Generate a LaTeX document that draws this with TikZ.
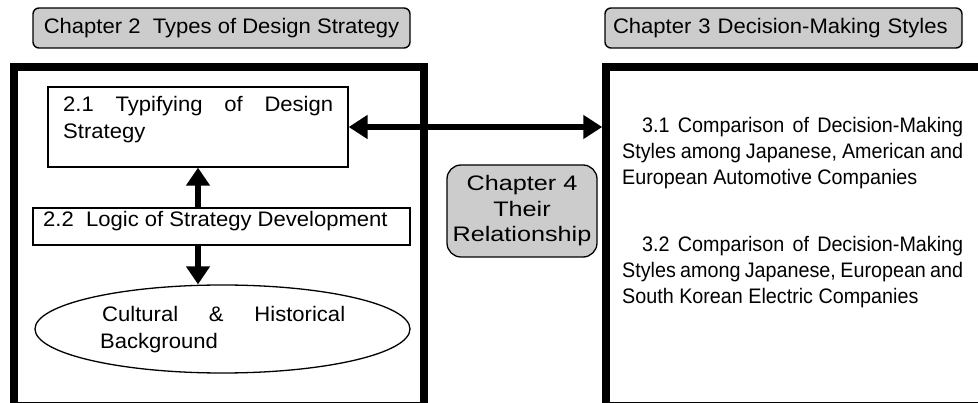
\documentclass[tikz,border=0pt]{standalone}
\usepackage{fontspec}
\setmainfont{Liberation Sans}
\newfontfamily\fleft{Liberation Sans}[FakeStretch=1.05]
\newfontfamily\fright{Liberation Sans}[FakeStretch=0.94]
\newfontfamily\fchfour{Liberation Sans}[FakeStretch=1.2]
\usetikzlibrary{arrows.meta,shapes.geometric}
\begin{document}
\begin{tikzpicture}[x=1pt,y=-1pt,
  hdr/.style={draw, line width=1.4pt, rounded corners=6pt, fill=gray!40, inner sep=0,
    font=\fleft\fontsize{21}{26}\selectfont},
  frm/.style={draw, line width=7.5pt, inner sep=0},
  box/.style={draw, line width=1.3pt, inner sep=0, fill=white},
  ltxt/.style={inner sep=0, anchor=base west, font=\fleft\fontsize{21}{26.5}\selectfont},
  rtxt/.style={inner sep=0, anchor=base west, font=\fright\fontsize{21}{26}\selectfont},
  arr/.style={line width=6pt, -{Triangle[length=18pt,width=23pt]}},
  darr/.style={line width=6pt, {Triangle[length=19pt,width=23pt]}-{Triangle[length=19pt,width=23pt]}},
]
\useasboundingbox (0,0) rectangle (978,403);
\clip (0,0) rectangle (978,403);
\fill[white] (0,0) rectangle (978,403);

% headers
\node[hdr, minimum width=377pt, minimum height=40pt] (h2) at (221.5,28) {Chapter 2\ \ Types of Design Strategy};
\node[hdr, minimum width=357pt, minimum height=40pt, text width=341pt, align=left, inner xsep=8pt] (h3) at (783.5,28) {Chapter 3 Decision-Making Styles};

% frames
\node[frm, minimum width=410pt, minimum height=338.6pt] (lframe) at (219,236.3) {};
\node[frm, minimum width=400pt, minimum height=338.6pt] (rframe) at (806,236.3) {};

% left content
\node[box, minimum width=300pt, minimum height=80pt] (b21) at (198,127) {};
\node[ltxt] (t21) at (63,111.7) {\parbox[t]{270pt}{\makebox[270pt][s]{2.1 Typifying of Design}\\Strategy}};

\node[box, minimum width=377pt, minimum height=37pt] (b22) at (221.5,226.5) {};
\node[ltxt] (t22) at (43,226.7) {2.2\ \ Logic of Strategy Development};

\node[draw, ellipse, line width=1.3pt, fill=white, minimum width=375pt, minimum height=88pt, inner sep=0] (ell) at (222.5,329) {};
\node[ltxt] (tell) at (100,321.7) {\parbox[t]{245pt}{\makebox[245pt][s]{\hspace*{2pt}Cultural \& Historical}\\Background}};

% chapter 4
\node[draw, line width=1.3pt, rounded corners=14pt, fill=gray!40, minimum width=150pt, minimum height=92pt, inner sep=0,
  align=center, font=\fchfour\fontsize{21}{25.5}\selectfont] (ch4) at (522,211) {Chapter 4\\Their\\Relationship};

% right content
\node[rtxt] (t31) at (622,133) {\parbox[t]{345pt}{\hspace*{20pt}\makebox[321pt][s]{3.1 Comparison of Decision-Making}\\\makebox[341pt][s]{Styles among Japanese, American and}\\European Automotive Companies}};
\node[rtxt] (t32) at (622,252) {\parbox[t]{345pt}{\hspace*{20pt}\makebox[321pt][s]{3.2 Comparison of Decision-Making}\\\makebox[341pt][s]{Styles among Japanese, European and}\\South Korean Electric Companies}};

% arrows
\draw[darr] (b21.east) -- (b21.east -| rframe.west);
\draw[arr] (b21.south |- b22.north) -- (b21.south);
\draw[arr] (b21.south |- b22.south) -- (b21.south |- ell.north);
\end{tikzpicture}
\end{document}
